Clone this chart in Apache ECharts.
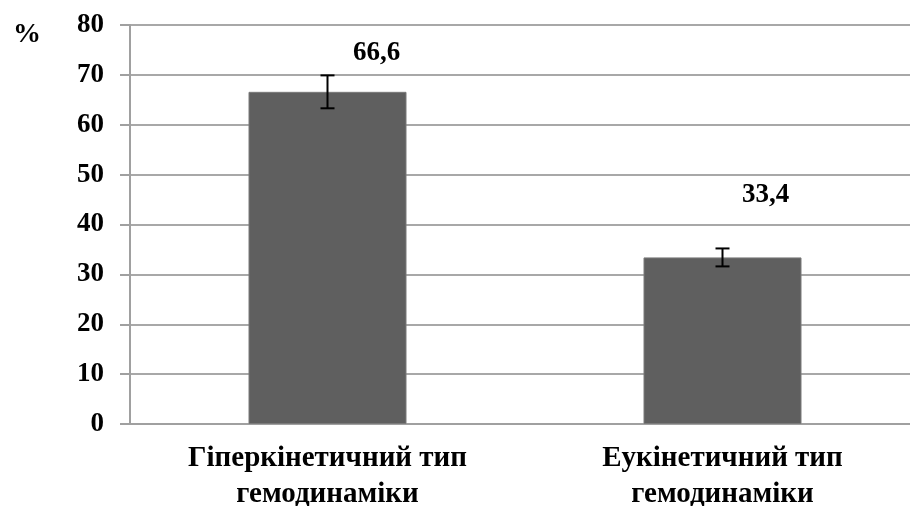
<!DOCTYPE html>
<html>
<head>
<meta charset="utf-8">
<script src="https://cdn.jsdelivr.net/npm/echarts@6/dist/echarts.min.js"></script>
<style>html,body{margin:0;padding:0;background:#fff}#c{width:910px;height:506px}</style>
</head>
<body>
<div id="c"></div>
<script>
// Haemodynamic type shares, % with error margins
const categories = ['Гіперкінетичний тип\nгемодинаміки', 'Еукінетичний тип\nгемодинаміки'];
const values = [66.6, 33.4];
const errLow = [63.3, 31.6];
const errHigh = [69.9, 35.2];
const valueLabels = ['66,6', '33,4'];
const yTicks = [0, 10, 20, 30, 40, 50, 60, 70, 80];

const font = '"Liberation Serif", "Times New Roman", serif';
const chart = echarts.init(document.getElementById('c'), null, {renderer: 'canvas'});

chart.setOption({
  animation: false,
  grid: {left: 130, top: 25, right: -10, bottom: 82, containLabel: false, outerBoundsMode: 'none'},
  xAxis: {
    type: 'category',
    data: categories,
    axisLine: {lineStyle: {color: '#a0a0a0', width: 2}},
    axisTick: {length: 10, lineStyle: {color: '#a0a0a0', width: 2}},
    axisLabel: {
      fontFamily: font, fontWeight: 'bold', fontSize: 29, color: '#000',
      lineHeight: 36, margin: 17
    }
  },
  yAxis: {
    type: 'value',
    min: yTicks[0], max: yTicks[yTicks.length - 1], interval: 10,
    name: '%',
    nameLocation: 'end',
    nameGap: 0,
    nameTextStyle: {fontFamily: font, fontWeight: 'bold', fontSize: 28, color: '#000',
      align: 'left', padding: [0, 0, -24, -117]},
    axisLine: {show: true, lineStyle: {color: '#a0a0a0', width: 2}},
    axisTick: {show: true, length: 10, lineStyle: {color: '#a0a0a0', width: 2}},
    splitLine: {lineStyle: {color: '#a8a8a8', width: 2}},
    axisLabel: {fontFamily: font, fontWeight: 'bold', fontSize: 27, color: '#000', margin: 26}
  },
  series: [
    {
      type: 'bar',
      barWidth: '40%',
      itemStyle: {color: '#5f5f5f', borderColor: '#7a7a7a', borderWidth: 1},
      data: values.map((v, i) => ({
        value: v,
        label: {
          show: true,
          position: 'top',
          formatter: valueLabels[i],
          offset: i === 0 ? [49, -20] : [43, -44],
          fontFamily: font, fontWeight: 'bold', fontSize: 27, color: '#000'
        }
      }))
    },
    {
      type: 'custom',
      z: 5,
      data: values.map((v, i) => [i, errLow[i], errHigh[i]]),
      renderItem: function (params, api) {
        const lo = api.coord([api.value(0), api.value(1)]);
        const hi = api.coord([api.value(0), api.value(2)]);
        const cap = 7;
        const style = {stroke: '#000', lineWidth: 2};
        return {
          type: 'group',
          children: [
            {type: 'line', shape: {x1: lo[0], y1: lo[1], x2: hi[0], y2: hi[1]}, style},
            {type: 'line', shape: {x1: lo[0] - cap, y1: lo[1], x2: lo[0] + cap, y2: lo[1]}, style},
            {type: 'line', shape: {x1: hi[0] - cap, y1: hi[1], x2: hi[0] + cap, y2: hi[1]}, style}
          ]
        };
      }
    }
  ]
});
</script>
</body>
</html>
